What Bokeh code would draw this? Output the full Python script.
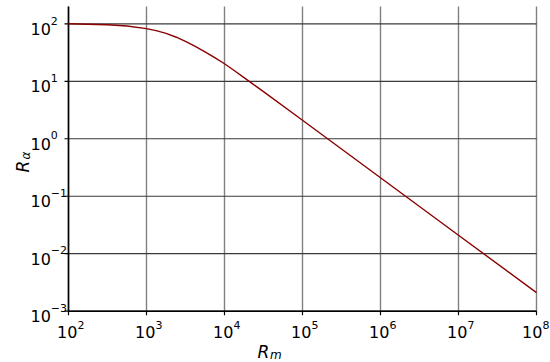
from bokeh.plotting import figure
from bokeh.models import Label, Range1d
from bokeh.embed import file_html
from bokeh.resources import INLINE

# ---------------- data ----------------
rm_values = [1e2, 1.78e2, 3.16e2, 5.62e2, 1e3, 1.33e3, 1.78e3, 2.37e3, 3.16e3,
             4.22e3, 5.62e3, 7.5e3, 1e4, 1.33e4, 1.78e4, 2.37e4, 3.16e4,
             1e5, 1e6, 1e7, 1e8]
r_alpha = [100, 98.5, 96.5, 91.5, 82.5, 76, 68, 59, 49.5,
           40.5, 32.5, 25.7, 20.2, 15.4, 11.6, 8.75, 6.6,
           2.1, 0.21, 0.021, 0.0021]

x_ticks = [1e2, 1e3, 1e4, 1e5, 1e6, 1e7, 1e8]
x_tick_exponents = ["2", "3", "4", "5", "6", "7", "8"]
y_ticks = [1e-3, 1e-2, 1e-1, 1e0, 1e1, 1e2]
y_tick_exponents = ["−3", "−2", "−1", "0", "1", "2"]
y_top = 200

x_label_main, x_label_sub = "R", "m"
y_label_main, y_label_sub = "R", "α"

# ---------------- layout constants (pixels) ----------------
W, H = 550, 362
X_FIRST_PX, X_DEC_PX = 68.0, 78.0      # pixel of first x tick, pixels per decade
Y_FIRST_PX, Y_DEC_PX = 23.3, 57.48     # pixel of 10^2 y tick, pixels per decade
FONT = "DejaVu Sans"
BASE_SIZE, EXP_SIZE = "16px", "11px"


def xval(px):
    return 10 ** (2 + (px - X_FIRST_PX) / X_DEC_PX)


def yval(py):
    return 10 ** (2 - (py - Y_FIRST_PX) / Y_DEC_PX)


p = figure(width=W, height=H, x_axis_type="log", y_axis_type="log",
           x_range=Range1d(xval(0), xval(W)), y_range=Range1d(yval(H), yval(0)),
           output_backend="svg", toolbar_location=None,
           x_axis_location=None, y_axis_location=None,
           min_border=0, min_border_left=0, min_border_right=0,
           min_border_top=0, min_border_bottom=0)
p.outline_line_color = None
p.grid.visible = False
p.background_fill_color = "white"
p.border_fill_color = "white"

x_lo, x_hi = x_ticks[0], x_ticks[-1]
y_lo = y_ticks[0]

# grid lines
p.segment(x0=x_ticks, y0=[y_lo] * len(x_ticks), x1=x_ticks, y1=[y_top] * len(x_ticks),
          line_color="#808080", line_width=1.4)
p.segment(x0=[x_lo] * len(y_ticks), y0=y_ticks, x1=[x_hi] * len(y_ticks), y1=y_ticks,
          line_color="#3a3a3a", line_width=1.2)

# tick marks (4 px outward)
tick_y_end = y_lo * 10 ** (-4 / Y_DEC_PX)
tick_x_end = x_lo * 10 ** (-4 / X_DEC_PX)
p.segment(x0=x_ticks, y0=[y_lo] * len(x_ticks), x1=x_ticks, y1=[tick_y_end] * len(x_ticks),
          line_color="black", line_width=1.2)
p.segment(x0=[x_lo] * len(y_ticks), y0=y_ticks, x1=[tick_x_end] * len(y_ticks), y1=y_ticks,
          line_color="black", line_width=1.2)

# spines (left and bottom)
p.segment(x0=[x_lo, x_lo], y0=[y_lo, y_lo], x1=[x_lo, x_hi], y1=[y_top, y_lo],
          line_color="black", line_width=1.6)

# the curve
p.line(rm_values, r_alpha, line_color="#8b0000", line_width=1.4)

# x tick labels: "10" with a raised exponent
for i, (t, e) in enumerate(zip(x_ticks, x_tick_exponents)):
    shift = -3.0 if i == len(x_ticks) - 1 else 0.0   # keep the last label inside the page
    p.add_layout(Label(x=t, y=yval(331.7), x_offset=-11.5 + shift, text="10",
                       text_font=FONT, text_font_size=BASE_SIZE,
                       text_baseline="alphabetic", text_align="left",
                       text_color="black"))
    p.add_layout(Label(x=t, y=yval(324.0), x_offset=8.9 + shift, text=e,
                       text_font=FONT, text_font_size=EXP_SIZE,
                       text_baseline="alphabetic", text_align="left",
                       text_color="black"))

# y tick labels
for t, e in zip(y_ticks, y_tick_exponents):
    p.add_layout(Label(x=xval(30.0), y=t, y_offset=-5, text="10",
                       text_font=FONT, text_font_size=BASE_SIZE,
                       text_baseline="alphabetic", text_align="left",
                       text_color="black"))
    p.add_layout(Label(x=xval(50.3), y=t, y_offset=3.3, text=e,
                       text_font=FONT, text_font_size=EXP_SIZE,
                       text_baseline="alphabetic", text_align="left",
                       text_color="black"))

# x axis label  R_m
p.add_layout(Label(x=xval(257.0), y=yval(351.0), text=x_label_main,
                   text_font=FONT, text_font_style="italic", text_font_size="17px",
                   text_baseline="alphabetic", text_align="left", text_color="black"))
p.add_layout(Label(x=xval(269.5), y=yval(354.0), text=x_label_sub,
                   text_font=FONT, text_font_style="italic", text_font_size="12px",
                   text_baseline="alphabetic", text_align="left", text_color="black"))

# y axis label  R_alpha (rotated)
p.add_layout(Label(x=xval(22.5), y=yval(172.0), text=y_label_main, angle=1.5708,
                   text_font=FONT, text_font_style="italic", text_font_size="17px",
                   text_baseline="alphabetic", text_align="left", text_color="black"))
p.add_layout(Label(x=xval(25.5), y=yval(159.0), text=y_label_sub, angle=1.5708,
                   text_font=FONT, text_font_style="italic", text_font_size="12px",
                   text_baseline="alphabetic", text_align="left", text_color="black"))

open("out.html", "w").write(file_html(p, INLINE))
